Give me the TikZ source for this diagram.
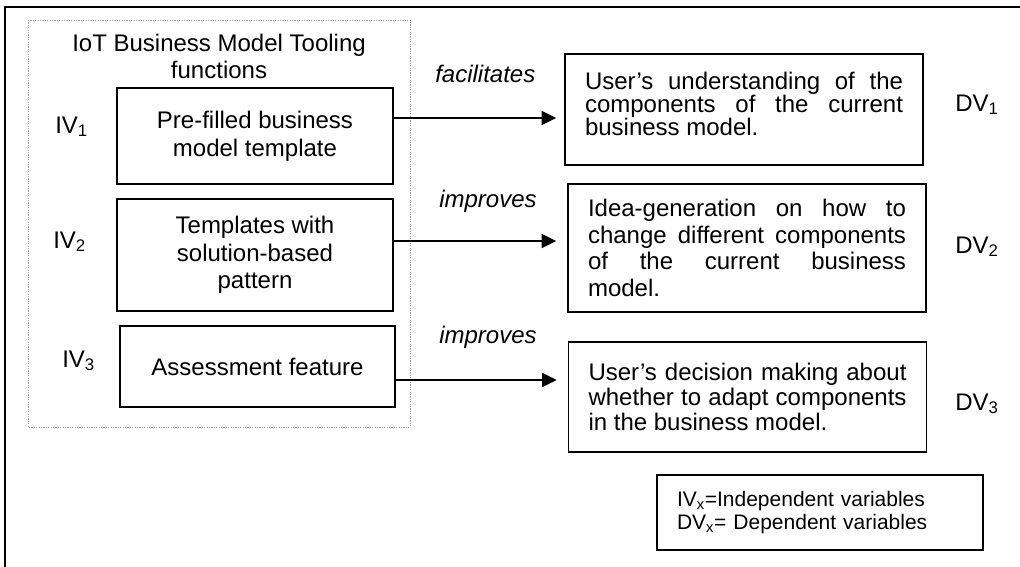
\documentclass[tikz,border=0pt]{standalone}
\usepackage{fontspec}
\setmainfont{Liberation Sans}
\usetikzlibrary{arrows.meta}
\begin{document}
\begin{tikzpicture}[x=0.75pt,y=-0.75pt,
  frameline/.style={line width=1.5pt},
  dotbox/.style={draw=gray!75,line width=0.6pt,dash pattern=on 0.9pt off 0.9pt},
  ivbox/.style={draw,line width=1.1pt,inner sep=0pt,align=center,
    font=\fontsize{18}{20.7}\selectfont},
  dvbox/.style={draw,line width=1.1pt,inner xsep=15pt,inner ysep=0pt,
    text width=238.5pt,minimum width=268.5pt,align=justify},
  lbl/.style={inner sep=0pt,font=\fontsize{18}{20.7}\selectfont},
  verb/.style={inner sep=0pt,font=\fontsize{18}{20.7}\selectfont\itshape},
  arr/.style={line width=1.1pt,-{Triangle[length=11pt,width=10.5pt]}}
]
\useasboundingbox (0,0) rectangle (1020,567);
% outer frame (top and left edges)
\draw[frameline] (1022,7.5) -- (5,7.5) -- (5,569);
% dotted group
\draw[dotbox] (28,20) rectangle (410,427);
\node[lbl,anchor=base] (title) at (219,52) {IoT Business Model Tooling};
\node[lbl,anchor=base] (title2) at (219,79) {functions};
% independent variable boxes
\node[ivbox,minimum width=207pt,minimum height=72pt] (b1) at (255,136)
  {Pre-filled business\\model template};
\node[ivbox,minimum width=207pt,minimum height=84pt] (b2) at (255,255)
  {Templates with\\solution-based\\pattern};
\node[ivbox,minimum width=206.25pt,minimum height=60.75pt] (b3) at (257.5,366.5)
  {Assessment feature};
\node[lbl,anchor=base west] (iv1) at (55,133) {IV\textsubscript{1}};
\node[lbl,anchor=base west] (iv2) at (53,248) {IV\textsubscript{2}};
\node[lbl,anchor=base west] (iv3) at (62,367) {IV\textsubscript{3}};
% dependent variable boxes
\node[dvbox,minimum height=83.25pt,font=\fontsize{18}{17.2}\selectfont] (d1) at (744,109.5)
  {User’s understanding of the\linebreak components of the current\linebreak business model.\par\kern8pt\hrule height 0pt};
\node[dvbox,minimum height=96pt,font=\fontsize{18}{20}\selectfont] (d2) at (747,248)
  {Idea-generation on how to\linebreak change different components\linebreak of the current business\linebreak model.};
\node[dvbox,minimum height=82.5pt,font=\fontsize{18}{18.75}\selectfont] (d3) at (747.5,397)
  {User’s decision making about\linebreak whether to adapt components\linebreak in the business model.};
\node[lbl,anchor=base west] (dv1) at (955,111) {DV\textsubscript{1}};
\node[lbl,anchor=base west] (dv2) at (955,253) {DV\textsubscript{2}};
\node[lbl,anchor=base west] (dv3) at (955,410) {DV\textsubscript{3}};
% verbs
\node[verb,anchor=base west] (v1) at (435,83) {facilitates};
\node[verb,anchor=base west] (v2) at (439,207) {improves};
\node[verb,anchor=base west] (v3) at (439,343) {improves};
% arrows
\coordinate (y1) at (0,118);
\coordinate (y2) at (0,241);
\coordinate (y3) at (0,380);
\draw[arr,shorten >=6pt] (b1.east |- y1) -- (d1.west |- y1);
\draw[arr,shorten >=8.25pt] (b2.east |- y2) -- (d2.west |- y2);
\draw[arr,shorten >=8.25pt] (b3.east |- y3) -- (d3.west |- y3);
% legend
\node[draw,line width=1.1pt,inner xsep=15pt,inner ysep=0pt,text width=214.5pt,
  minimum height=56.25pt,align=left,font=\fontsize{15.75}{17.25}\selectfont] (leg) at (820,512.5)
  {IV\textsubscript{x}=Independent variables\\DV\textsubscript{x}= Dependent variables};
\end{tikzpicture}
\end{document}
